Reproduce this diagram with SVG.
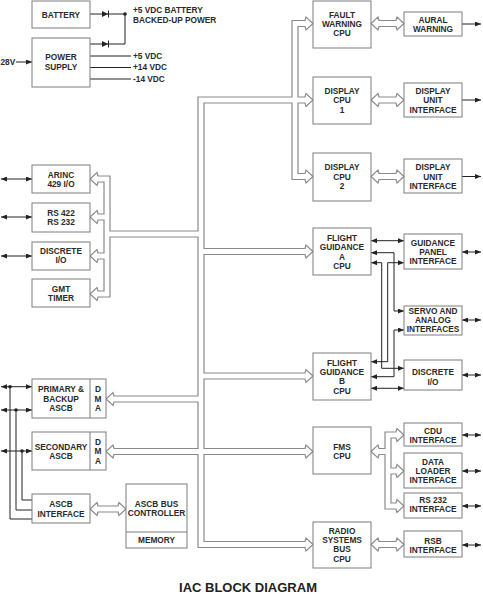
<svg xmlns="http://www.w3.org/2000/svg" width="483" height="601" viewBox="0 0 483 601">
<style>
.b{fill:#fff;stroke:#7c7c7c;stroke-width:1}
.p{fill:none;stroke:#8a8a8a;stroke-width:1.2;stroke-linejoin:miter}
.w{fill:none;stroke:#222;stroke-width:1}
.t{font-family:"Liberation Sans",Arial,sans-serif;font-weight:bold;font-size:8.3px;fill:#2a2a2a;text-anchor:middle}
.l{font-family:"Liberation Sans",Arial,sans-serif;font-weight:bold;font-size:8.3px;fill:#2a2a2a}
.ttl{font-family:"Liberation Sans",Arial,sans-serif;font-weight:bold;font-size:13px;fill:#222;text-anchor:middle}
</style>
<defs>
<marker id="ah" viewBox="0 0 6 5" refX="6" refY="2.5" markerWidth="6" markerHeight="5" markerUnits="userSpaceOnUse" orient="auto-start-reverse"><path d="M0,0 L6,2.5 L0,5 z" fill="#222"/></marker>
</defs>

<g id="connectors">
<!-- main hollow bus -->
<path class="p" d="M98,176 L110,176 L110,231 L198,231 L198,97 L292,97 L292,20.5 L305,20.5 L306,17 L313,23.5 L306,30 L305,26.5 L298,26.5 L298,97 L305,97 L306,93.5 L313,100 L306,106.5 L305,103 L298,103 L298,173.5 L305,173.5 L306,170 L313,176.5 L306,183 L305,179.5 L292,179.5 L292,103 L204,103 L204,248.5 L305,248.5 L306,245 L313,251.5 L306,258 L305,254.5 L204,254.5 L204,373 L305,373 L306,369.5 L313,376 L306,382.5 L305,379 L204,379 L204,448.5 L305,448.5 L306,445 L313,451.5 L306,458 L305,454.5 L204,454.5 L204,541.5 L305,541.5 L306,538 L313,544.5 L306,551 L305,547.5 L198,547.5 L198,454.5 L114,454.5 L113,458 L106,451.5 L113,445 L114,448.5 L198,448.5 L198,402 L114,402 L113,405.5 L106,399 L113,392.5 L114,396 L198,396 L198,237 L110,237 L110,297 L98,297 L97,300.5 L90,294 L97,287.5 L98,291 L104,291 L104,259 L98,259 L97,262.5 L90,256 L97,249.5 L98,253 L104,253 L104,220 L98,220 L97,223.5 L90,217 L97,210.5 L98,214 L104,214 L104,182 L98,182 L97,185.5 L90,179 L97,172.5 Z"/>
<!-- FMS hollow sub-bus -->
<path class="p" d="M379,454.5 L378,458 L371,451.5 L378,445 L379,448.5 L385,448.5 L385,432 L396,432 L397,428.5 L404,435 L397,441.5 L396,438 L391,438 L391,468 L396,468 L397,464.5 L404,471 L397,477.5 L396,474 L391,474 L391,503 L396,503 L397,499.5 L404,506 L397,512.5 L396,509 L385,509 L385,454.5 Z"/>
<!-- hollow double arrows -->
<path class="p" d="M379,20.5 L378,17 L371,23.5 L378,30 L379,26.5 L396,26.5 L397,30 L404,23.5 L397,17 L396,20.5 Z"/>
<path class="p" d="M379,97 L378,93.5 L371,100 L378,106.5 L379,103 L396,103 L397,106.5 L404,100 L397,93.5 L396,97 Z"/>
<path class="p" d="M379,173.5 L378,170 L371,176.5 L378,183 L379,179.5 L396,179.5 L397,183 L404,176.5 L397,170 L396,173.5 Z"/>
<path class="p" d="M379,541.5 L378,538 L371,544.5 L378,551 L379,547.5 L396,547.5 L397,551 L404,544.5 L397,538 L396,541.5 Z"/>
<path class="p" d="M98,506 L97,502.5 L90,509 L97,515.5 L98,512 L118,512 L119,515.5 L126,509 L119,502.5 L118,506 Z"/>

<!-- power -->
<path class="w" d="M90,14 L125,14 L125,44 L90,44"/>
<path d="M102,11 L108,14 L102,17 Z M102,41 L108,44 L102,47 Z" fill="#222"/>
<path class="w" d="M108.5,10.5 L108.5,17.5 M108.5,40.5 L108.5,47.5"/>
<circle cx="125" cy="14" r="1.8" fill="#222"/>
<path class="w" d="M90,56 L131,56 M90,67.5 L131,67.5 M90,79 L131,79"/>
<path class="w" d="M16,62 L32,62" marker-end="url(#ah)"/>

<!-- right outputs -->
<path class="w" d="M462,24 L481,24" marker-end="url(#ah)"/>
<path class="w" d="M462,100 L481,100" marker-end="url(#ah)"/>
<path class="w" d="M462,176.5 L481,176.5" marker-end="url(#ah)"/>
<path class="w" d="M462,252 L481,252" marker-start="url(#ah)" marker-end="url(#ah)"/>
<path class="w" d="M462,320 L481,320" marker-start="url(#ah)" marker-end="url(#ah)"/>
<path class="w" d="M462,375 L481,375" marker-start="url(#ah)" marker-end="url(#ah)"/>
<path class="w" d="M462,435 L481,435" marker-start="url(#ah)" marker-end="url(#ah)"/>
<path class="w" d="M462,471 L481,471" marker-start="url(#ah)" marker-end="url(#ah)"/>
<path class="w" d="M462,506 L481,506" marker-start="url(#ah)" marker-end="url(#ah)"/>
<path class="w" d="M462,545 L481,545" marker-start="url(#ah)" marker-end="url(#ah)"/>

<!-- left I/O -->
<path class="w" d="M1,179 L32,179" marker-start="url(#ah)" marker-end="url(#ah)"/>
<path class="w" d="M1,217 L32,217" marker-start="url(#ah)" marker-end="url(#ah)"/>
<path class="w" d="M1,256 L32,256" marker-start="url(#ah)" marker-end="url(#ah)"/>

<!-- ASCB lines -->
<path class="w" d="M1,386.7 L32,386.7" marker-start="url(#ah)" marker-end="url(#ah)"/>
<path class="w" d="M1,410 L32,410" marker-start="url(#ah)" marker-end="url(#ah)"/>
<path class="w" d="M1,451 L32,451" marker-start="url(#ah)" marker-end="url(#ah)"/>
<path class="w" d="M10,386.7 L10,519 L32,519 M16,410 L16,510 L32,510 M22,451 L22,500 L32,500"/>
<circle cx="10" cy="386.7" r="1.8" fill="#222"/>
<circle cx="16" cy="410" r="1.8" fill="#222"/>
<circle cx="22" cy="451" r="1.8" fill="#222"/>

<!-- flight guidance interconnects -->
<path class="w" d="M371,240.7 L404,240.7" marker-start="url(#ah)" marker-end="url(#ah)"/>
<path class="w" d="M371,252.7 L394,252.7 L394,311 L404,311" marker-start="url(#ah)" marker-end="url(#ah)"/>
<path class="w" d="M371,262.7 L381.7,262.7 L381.7,368.3 L404,368.3" marker-start="url(#ah)" marker-end="url(#ah)"/>
<path class="w" d="M404,262.7 L387.7,262.7 L387.7,361.7 L371,361.7" marker-start="url(#ah)" marker-end="url(#ah)"/>
<path class="w" d="M404,330 L394,330 L394,376.7 L371,376.7" marker-start="url(#ah)" marker-end="url(#ah)"/>
<path class="w" d="M371,388.3 L404,388.3" marker-start="url(#ah)" marker-end="url(#ah)"/>
</g>

<g id="battery"><rect class="b" x="32" y="1" width="58" height="27"/><text class="t" x="61" y="17.5">BATTERY</text></g>
<g id="power-supply"><rect class="b" x="32" y="38" width="58" height="49"/><text class="t" x="61" y="60">POWER</text><text class="t" x="61" y="70">SUPPLY</text></g>
<g id="power-labels">
<text class="l" x="133" y="13.3">+5 VDC BATTERY</text>
<text class="l" x="133" y="22.7">BACKED-UP POWER</text>
<text class="l" x="133" y="59">+5 VDC</text>
<text class="l" x="133" y="70.3">+14 VDC</text>
<text class="l" x="133" y="82">-14 VDC</text>
<text class="l" x="0.5" y="65">28V</text>
</g>

<g id="fault-warning-cpu"><rect class="b" x="313" y="1" width="58" height="47"/><text class="t" x="342" y="18">FAULT</text><text class="t" x="342" y="27">WARNING</text><text class="t" x="342" y="36.3">CPU</text></g>
<g id="aural-warning"><rect class="b" x="404" y="12" width="58" height="24"/><text class="t" x="433" y="22.7">AURAL</text><text class="t" x="433" y="31.7">WARNING</text></g>
<g id="display-cpu-1"><rect class="b" x="313" y="77" width="58" height="47"/><text class="t" x="342" y="94">DISPLAY</text><text class="t" x="342" y="103">CPU</text><text class="t" x="342" y="112.7">1</text></g>
<g id="display-unit-interface-1"><rect class="b" x="404" y="83" width="58" height="34"/><text class="t" x="433" y="94">DISPLAY</text><text class="t" x="433" y="103">UNIT</text><text class="t" x="433" y="112.7">INTERFACE</text></g>
<g id="display-cpu-2"><rect class="b" x="313" y="153" width="58" height="48"/><text class="t" x="342" y="170.3">DISPLAY</text><text class="t" x="342" y="179.7">CPU</text><text class="t" x="342" y="189">2</text></g>
<g id="display-unit-interface-2"><rect class="b" x="404" y="159" width="58" height="34"/><text class="t" x="433" y="170.3">DISPLAY</text><text class="t" x="433" y="179.7">UNIT</text><text class="t" x="433" y="189">INTERFACE</text></g>
<g id="flight-guidance-a-cpu"><rect class="b" x="313" y="228" width="58" height="47"/><text class="t" x="342" y="240.7">FLIGHT</text><text class="t" x="342" y="250.3">GUIDANCE</text><text class="t" x="342" y="259.7">A</text><text class="t" x="342" y="269">CPU</text></g>
<g id="guidance-panel-interface"><rect class="b" x="404" y="234" width="58" height="35"/><text class="t" x="433" y="245.7">GUIDANCE</text><text class="t" x="433" y="255">PANEL</text><text class="t" x="433" y="264.3">INTERFACE</text></g>
<g id="servo-analog-interfaces"><rect class="b" x="404" y="306" width="58" height="29"/><text class="t" x="433" y="314">SERVO AND</text><text class="t" x="433" y="323">ANALOG</text><text class="t" x="433" y="332">INTERFACES</text></g>
<g id="discrete-io-right"><rect class="b" x="404" y="360" width="58" height="30"/><text class="t" x="433" y="374.7">DISCRETE</text><text class="t" x="433" y="384.7">I/O</text></g>
<g id="flight-guidance-b-cpu"><rect class="b" x="313" y="353" width="58" height="47"/><text class="t" x="342" y="365.7">FLIGHT</text><text class="t" x="342" y="375">GUIDANCE</text><text class="t" x="342" y="384.3">B</text><text class="t" x="342" y="393.7">CPU</text></g>

<g id="arinc-429"><rect class="b" x="32" y="165" width="58" height="28"/><text class="t" x="61" y="178">ARINC</text><text class="t" x="61" y="187">429 I/O</text></g>
<g id="rs422-rs232"><rect class="b" x="32" y="203" width="58" height="29"/><text class="t" x="61" y="216">RS 422</text><text class="t" x="61" y="225">RS 232</text></g>
<g id="discrete-io-left"><rect class="b" x="32" y="242" width="58" height="28"/><text class="t" x="61" y="254">DISCRETE</text><text class="t" x="61" y="263.3">I/O</text></g>
<g id="gmt-timer"><rect class="b" x="32" y="279" width="58" height="28"/><text class="t" x="61" y="292.3">GMT</text><text class="t" x="61" y="301.3">TIMER</text></g>

<g id="primary-backup-ascb"><rect class="b" x="32" y="379" width="74" height="39"/><line class="b" x1="90" y1="379" x2="90" y2="418"/><text class="t" x="61" y="392.3">PRIMARY &amp;</text><text class="t" x="61" y="401.7">BACKUP</text><text class="t" x="61" y="411">ASCB</text><text class="t" x="98" y="392.3">D</text><text class="t" x="98" y="401.7">M</text><text class="t" x="98" y="411">A</text></g>
<g id="secondary-ascb"><rect class="b" x="32" y="432" width="74" height="38"/><line class="b" x1="90" y1="432" x2="90" y2="470"/><text class="t" x="61" y="449.7">SECONDARY</text><text class="t" x="61" y="459">ASCB</text><text class="t" x="98" y="444.7">D</text><text class="t" x="98" y="454.3">M</text><text class="t" x="98" y="463.7">A</text></g>
<g id="ascb-interface"><rect class="b" x="32" y="494" width="58" height="29"/><text class="t" x="61" y="507.3">ASCB</text><text class="t" x="61" y="516.7">INTERFACE</text></g>
<g id="ascb-bus-controller"><rect class="b" x="126" y="484" width="61" height="64"/><line class="b" x1="126" y1="532" x2="187" y2="532"/><text class="t" x="156.5" y="507">ASCB BUS</text><text class="t" x="156.5" y="516.3">CONTROLLER</text><text class="t" x="156.5" y="543">MEMORY</text></g>

<g id="fms-cpu"><rect class="b" x="313" y="427" width="58" height="47"/><text class="t" x="342" y="449.7">FMS</text><text class="t" x="342" y="458.7">CPU</text></g>
<g id="cdu-interface"><rect class="b" x="404" y="423" width="58" height="23"/><text class="t" x="433" y="433.7">CDU</text><text class="t" x="433" y="443">INTERFACE</text></g>
<g id="data-loader-interface"><rect class="b" x="404" y="453" width="58" height="35"/><text class="t" x="433" y="464.7">DATA</text><text class="t" x="433" y="474">LOADER</text><text class="t" x="433" y="483.3">INTERFACE</text></g>
<g id="rs232-interface"><rect class="b" x="404" y="493" width="58" height="25"/><text class="t" x="433" y="503">RS 232</text><text class="t" x="433" y="512.3">INTERFACE</text></g>
<g id="radio-systems-bus-cpu"><rect class="b" x="313" y="522" width="58" height="46"/><text class="t" x="342" y="533.7">RADIO</text><text class="t" x="342" y="543">SYSTEMS</text><text class="t" x="342" y="552.3">BUS</text><text class="t" x="342" y="561.7">CPU</text></g>
<g id="rsb-interface"><rect class="b" x="404" y="531" width="58" height="26"/><text class="t" x="433" y="544">RSB</text><text class="t" x="433" y="553">INTERFACE</text></g>

<g id="title"><text class="ttl" x="248" y="591.5">IAC BLOCK DIAGRAM</text></g>
</svg>
